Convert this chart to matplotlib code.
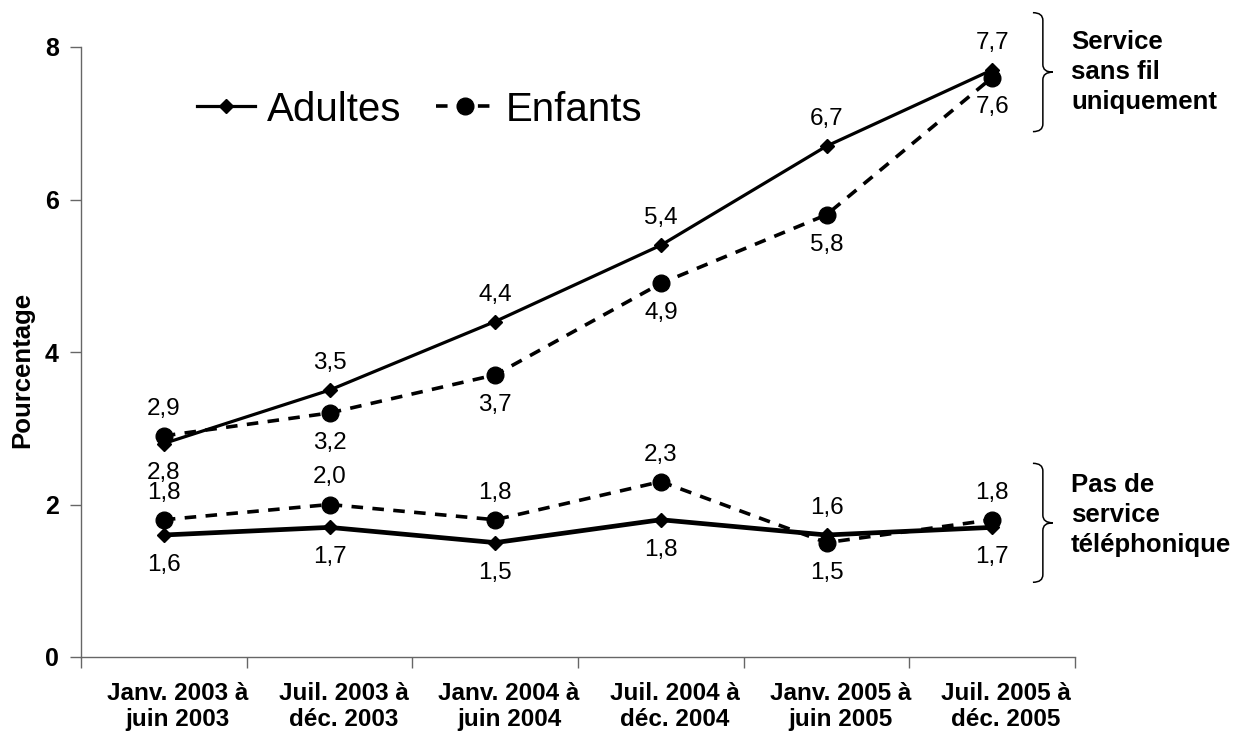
import matplotlib
matplotlib.use("Agg")
import matplotlib.pyplot as plt
from matplotlib.path import Path
from matplotlib.patches import PathPatch
from matplotlib.transforms import ScaledTranslation

plt.rcParams['font.family'] = ['Liberation Sans', 'DejaVu Sans']

# periods (x categories)
periods = ["Janv. 2003 à\njuin 2003", "Juil. 2003 à\ndéc. 2003",
           "Janv. 2004 à\njuin 2004", "Juil. 2004 à\ndéc. 2004",
           "Janv. 2005 à\njuin 2005", "Juil. 2005 à\ndéc. 2005"]

# wireless only
adults_wireless = [2.8, 3.5, 4.4, 5.4, 6.7, 7.7]
children_wireless = [2.9, 3.2, 3.7, 4.9, 5.8, 7.6]
# no telephone service
adults_none = [1.6, 1.7, 1.5, 1.8, 1.6, 1.7]
children_none = [1.8, 2.0, 1.8, 2.3, 1.5, 1.8]

yticks = [0, 2, 4, 6, 8]

fig = plt.figure(figsize=(12.41, 7.36), dpi=100)
ax = fig.add_axes([81 / 1241, 1 - 657 / 736, 994 / 1241, 610 / 736])

x = list(range(len(periods)))
dash = (0, (3.2, 2.6))

ax.plot(x, adults_wireless, color='black', lw=2.3, marker='D', ms=7.5,
        label='Adultes', zorder=3)
ax.plot(x, children_wireless, color='black', lw=2.6, ls=dash, marker='o', ms=12,
        label='Enfants', zorder=4)
ax.plot(x, adults_none, color='black', lw=3.4, marker='D', ms=7.5, zorder=3)
ax.plot(x, children_none, color='black', lw=2.6, ls=dash, marker='o', ms=12, zorder=4)


def fmt(v):
    return f"{v:.1f}".replace('.', ',')


# value labels: higher value above, lower value below
for a_vals, c_vals in [(adults_wireless, children_wireless), (adults_none, children_none)]:
    for i, (a, c) in enumerate(zip(a_vals, c_vals)):
        hi, lo = (a, c) if a >= c else (c, a)
        ax.annotate(fmt(hi), (i, hi), xytext=(0, 27), textcoords='offset pixels',
                    ha='center', va='center', fontsize=17.5)
        ax.annotate(fmt(lo), (i, lo), xytext=(0, -30), textcoords='offset pixels',
                    ha='center', va='center', fontsize=17.5)

ax.set_xlim(-0.5, len(periods) - 0.5)
ax.set_ylim(0, 8)
ax.set_yticks(yticks)
ax.set_yticklabels([str(t) for t in yticks], fontsize=18, fontweight='bold')

# ticks on category boundaries, labels at centres
ax.set_xticks([i - 0.5 for i in range(len(periods) + 1)])
ax.set_xticklabels([])
ax.set_xticks(x, minor=True)
ax.set_xticklabels(periods, minor=True, fontsize=17.5, fontweight='bold', linespacing=1.15)
ax.tick_params(axis='x', which='minor', length=0, pad=18)
ax.tick_params(axis='both', which='major', color='#666666', length=8, width=1, direction='out')
ax.tick_params(axis='y', pad=8)
shift = ScaledTranslation(14 / 100, 0, fig.dpi_scale_trans)
for lab in ax.get_xticklabels(minor=True):
    lab.set_transform(lab.get_transform() + shift)

for s in ['top', 'right']:
    ax.spines[s].set_visible(False)
for s in ['left', 'bottom']:
    ax.spines[s].set_color('#666666')
    ax.spines[s].set_linewidth(1)

ax.set_ylabel('Pourcentage', fontsize=18.5, fontweight='bold')
ax.yaxis.set_label_coords(-0.047, 0.47)

ax.legend(loc='upper left', bbox_to_anchor=(0.1, 0.955), ncol=2, frameon=False,
          fontsize=29, handlelength=1.45, handletextpad=0.3, columnspacing=0.85,
          borderaxespad=0)


def brace(ax, x0, y0, y1):
    # right curly brace from y1 (top) to y0 (bottom), left edge at x0
    dx = 0.06
    tip = 0.12
    r = 0.1
    ym = (y0 + y1) / 2
    xm = x0 + dx
    verts = [(x0, y1), (xm, y1), (xm, y1 - r),
             (xm, ym + r),
             (xm, ym), (x0 + tip, ym),
             (xm, ym), (xm, ym - r),
             (xm, y0 + r),
             (xm, y0), (x0, y0)]
    codes = [Path.MOVETO, Path.CURVE3, Path.CURVE3,
             Path.LINETO,
             Path.CURVE3, Path.CURVE3,
             Path.CURVE3, Path.CURVE3,
             Path.LINETO,
             Path.CURVE3, Path.CURVE3]
    ax.add_patch(PathPatch(Path(verts, codes), fill=False, lw=1.1, color='black',
                           clip_on=False))


brace(ax, 5.246, 6.89, 8.45)
brace(ax, 5.246, 0.98, 2.54)

ax.text(5.476, 7.67, "Service\nsans fil\nuniquement", ha='left', va='center',
        fontsize=18.5, fontweight='bold', linespacing=1.33, clip_on=False)
ax.text(5.476, 1.86, "Pas de\nservice\ntéléphonique", ha='left', va='center',
        fontsize=18.5, fontweight='bold', linespacing=1.33, clip_on=False)

fig.savefig('out.png', dpi=100)
